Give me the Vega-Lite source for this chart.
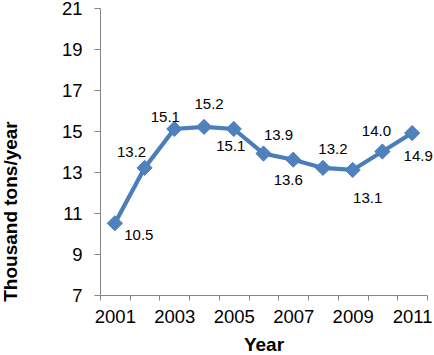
{
  "$schema": "https://vega.github.io/schema/vega-lite/v6.json",
  "width": 327,
  "height": 287,
  "autosize": {"type": "none"},
  "padding": {"left": 100, "top": 8, "right": 7, "bottom": 60},
  "background": "white",
  "config": {
    "view": {"stroke": null},
    "font": "Liberation Sans",
    "axis": {"grid": false, "domainColor": "#868686", "tickColor": "#868686", "labelColor": "#000000", "titleColor": "#000000", "labelFont": "Liberation Sans", "titleFont": "Liberation Sans"}
  },
  "data": {
    "values": [
      {"year": "2001", "value": 10.5},
      {"year": "2002", "value": 13.2},
      {"year": "2003", "value": 15.1},
      {"year": "2004", "value": 15.2},
      {"year": "2005", "value": 15.1},
      {"year": "2006", "value": 13.9},
      {"year": "2007", "value": 13.6},
      {"year": "2008", "value": 13.2},
      {"year": "2009", "value": 13.1},
      {"year": "2010", "value": 14.0},
      {"year": "2011", "value": 14.9}
    ]
  },
  "encoding": {
    "x": {
      "field": "year", "type": "ordinal", "bandPosition": 0.5,
      "scale": {"type": "band", "paddingInner": 0, "paddingOuter": 0},
      "axis": {
        "title": "Year", "titleFontSize": 19, "titleFontWeight": "bold", "titleY": 55, "titleBaseline": "alphabetic",
        "labelAngle": 0, "labelFontSize": 18.5, "labelPadding": 7, "tickSize": 5, "tickBand": "extent",
        "labelExpr": "toNumber(datum.value) % 2 == 1 ? datum.value : ''"
      }
    },
    "y": {
      "field": "value", "type": "quantitative",
      "scale": {"domain": [7, 21], "nice": false, "zero": false},
      "axis": {
        "title": "Thousand tons/year", "titleFontSize": 19, "titleFontWeight": "bold",
        "titleAngle": -90, "titleX": -83.5, "titleY": 203, "titleAlign": "center", "titleBaseline": "alphabetic",
        "values": [7, 9, 11, 13, 15, 17, 19, 21], "labelFontSize": 18.5, "labelPadding": 12, "tickSize": 6
      }
    }
  },
  "layer": [
    {"mark": {"type": "line", "color": "#4A7EBB", "strokeWidth": 4.2}},
    {"mark": {"type": "point", "shape": "diamond", "filled": true, "size": 230, "color": "#4F81BD", "stroke": "#4A7EBB", "strokeWidth": 1, "opacity": 1}},
    {"transform": [{"filter": "datum.year == '2001'"}], "mark": {"type": "text", "fontSize": 15, "dx": 24, "dy": 12, "baseline": "middle"}, "encoding": {"text": {"field": "value", "format": ".1f"}}},
    {"transform": [{"filter": "datum.year == '2002'"}], "mark": {"type": "text", "fontSize": 15, "dx": -13, "dy": -16, "baseline": "middle"}, "encoding": {"text": {"field": "value", "format": ".1f"}}},
    {"transform": [{"filter": "datum.year == '2003'"}], "mark": {"type": "text", "fontSize": 15, "dx": -9, "dy": -12, "baseline": "middle"}, "encoding": {"text": {"field": "value", "format": ".1f"}}},
    {"transform": [{"filter": "datum.year == '2004'"}], "mark": {"type": "text", "fontSize": 15, "dx": 5, "dy": -23, "baseline": "middle"}, "encoding": {"text": {"field": "value", "format": ".1f"}}},
    {"transform": [{"filter": "datum.year == '2005'"}], "mark": {"type": "text", "fontSize": 15, "dx": -3, "dy": 17, "baseline": "middle"}, "encoding": {"text": {"field": "value", "format": ".1f"}}},
    {"transform": [{"filter": "datum.year == '2006'"}], "mark": {"type": "text", "fontSize": 15, "dx": 15, "dy": -19, "baseline": "middle"}, "encoding": {"text": {"field": "value", "format": ".1f"}}},
    {"transform": [{"filter": "datum.year == '2007'"}], "mark": {"type": "text", "fontSize": 15, "dx": -5, "dy": 20, "baseline": "middle"}, "encoding": {"text": {"field": "value", "format": ".1f"}}},
    {"transform": [{"filter": "datum.year == '2008'"}], "mark": {"type": "text", "fontSize": 15, "dx": 10, "dy": -19, "baseline": "middle"}, "encoding": {"text": {"field": "value", "format": ".1f"}}},
    {"transform": [{"filter": "datum.year == '2009'"}], "mark": {"type": "text", "fontSize": 15, "dx": 15, "dy": 28, "baseline": "middle"}, "encoding": {"text": {"field": "value", "format": ".1f"}}},
    {"transform": [{"filter": "datum.year == '2010'"}], "mark": {"type": "text", "fontSize": 15, "dx": -6, "dy": -21, "baseline": "middle"}, "encoding": {"text": {"field": "value", "format": ".1f"}}},
    {"transform": [{"filter": "datum.year == '2011'"}], "mark": {"type": "text", "fontSize": 15, "dx": 6, "dy": 23, "baseline": "middle"}, "encoding": {"text": {"field": "value", "format": ".1f"}}}
  ]
}
